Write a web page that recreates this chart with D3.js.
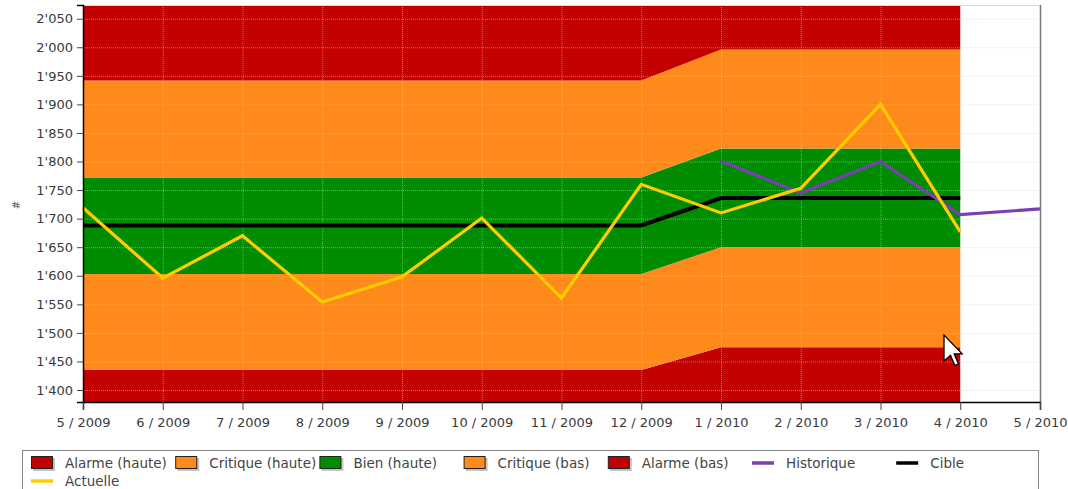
<!DOCTYPE html>
<html>
<head>
<meta charset="utf-8">
<script src="https://cdn.jsdelivr.net/npm/d3@7"></script>
<style>
  body { margin: 0; background: #fff; }
  text { font-family: "DejaVu Sans", Verdana, sans-serif; }
</style>
</head>
<body>
<div id="chart"></div>
<script>
// Month categories (x axis)
var months = ["5 / 2009", "6 / 2009", "7 / 2009", "8 / 2009", "9 / 2009", "10 / 2009",
  "11 / 2009", "12 / 2009", "1 / 2010", "2 / 2010", "3 / 2010", "4 / 2010", "5 / 2010"];

// Zone limits, one value per month from 5/2009 to 4/2010
var limiteAlarmeHaute = [1942, 1942, 1942, 1942, 1942, 1942, 1942, 1942, 1996, 1996, 1996, 1996];
var limiteCritiqueHaute = [1772, 1772, 1772, 1772, 1772, 1772, 1772, 1772, 1823, 1823, 1823, 1823];
var limiteCritiqueBas = [1603, 1603, 1603, 1603, 1603, 1603, 1603, 1603, 1650, 1650, 1650, 1650];
var limiteAlarmeBas = [1435, 1435, 1435, 1435, 1435, 1435, 1435, 1435, 1475, 1475, 1475, 1475];

// Lines
var cible = [1688, 1688, 1688, 1688, 1688, 1688, 1688, 1688, 1736, 1736, 1736, 1736];
var actuelle = [1719, 1596, 1670, 1554, 1598, 1701, 1561, 1760, 1710, 1753, 1900, 1677];
var historique = [null, null, null, null, null, null, null, null, 1801, 1745, 1800, 1707, 1717];

// Y tick values
var yTicks = [1400, 1450, 1500, 1550, 1600, 1650, 1700, 1750, 1800, 1850, 1900, 1950, 2000, 2050];

var svgWidth = 1068;
var svgHeight = 489;

var margin = { top: 5, right: 28, bottom: 87, left: 83 };
var chartWidth = svgWidth - margin.left - margin.right;
var chartHeight = svgHeight - margin.top - margin.bottom;

var colors = {
  alarme: "#c20000",
  critique: "#fd8a1b",
  bien: "#008c00",
  actuelle: "#ffcc00",
  historique: "#7a3fb2",
  cible: "#000000"
};

var svg = d3.select("#chart")
  .append("svg")
  .attr("width", svgWidth)
  .attr("height", svgHeight);

var chartGroup = svg.append("g")
  .attr("transform", `translate(${margin.left}, ${margin.top})`);

var xScale = d3.scalePoint()
  .domain(months)
  .range([0, chartWidth]);

var yScale = d3.scaleLinear()
  .domain([1379, 2074])
  .range([chartHeight, 0]);

var yMin = yScale.domain()[0];
var yMax = yScale.domain()[1];

// Zones as areas between limits
var zones = [
  { name: "Alarme (bas)", color: colors.alarme, low: months.slice(0, 12).map(() => yMin), high: limiteAlarmeBas },
  { name: "Critique (bas)", color: colors.critique, low: limiteAlarmeBas, high: limiteCritiqueBas },
  { name: "Bien (haute)", color: colors.bien, low: limiteCritiqueBas, high: limiteCritiqueHaute },
  { name: "Critique (haute)", color: colors.critique, low: limiteCritiqueHaute, high: limiteAlarmeHaute },
  { name: "Alarme (haute)", color: colors.alarme, low: limiteAlarmeHaute, high: months.slice(0, 12).map(() => yMax) }
];

var area = d3.area()
  .x(d => xScale(d.month))
  .y0(d => yScale(d.low))
  .y1(d => yScale(d.high));

zones.forEach(function(z) {
  var rows = z.low.map((v, i) => ({ month: months[i], low: v, high: z.high[i] }));
  chartGroup.append("path")
    .datum(rows)
    .attr("fill", z.color)
    .attr("d", area);
});

// Grid lines (dotted, drawn over the zones)
chartGroup.append("g")
  .selectAll("line.h")
  .data(yTicks)
  .enter()
  .append("line")
  .attr("x1", 0)
  .attr("x2", chartWidth)
  .attr("y1", d => yScale(d) + 0.5)
  .attr("y2", d => yScale(d) + 0.5)
  .attr("stroke", "rgba(205,205,205,0.55)")
  .attr("stroke-dasharray", "1,1");

chartGroup.append("g")
  .selectAll("line.v")
  .data(months.slice(1))
  .enter()
  .append("line")
  .attr("x1", d => xScale(d) + 0.5)
  .attr("x2", d => xScale(d) + 0.5)
  .attr("y1", 0)
  .attr("y2", chartHeight)
  .attr("stroke", "rgba(205,205,205,0.55)")
  .attr("stroke-dasharray", "1,1");

// Lines
var line = d3.line()
  .defined(d => d.value != null)
  .x(d => xScale(d.month))
  .y(d => yScale(d.value));

function drawLine(values, color, width) {
  chartGroup.append("path")
    .datum(values.map((v, i) => ({ month: months[i], value: v })))
    .attr("fill", "none")
    .attr("stroke", color)
    .attr("stroke-width", width)
    .attr("stroke-linejoin", "miter")
    .attr("d", line);
}

drawLine(cible, colors.cible, 4);
drawLine(historique, colors.historique, 3.2);
drawLine(actuelle, colors.actuelle, 3.2);

// Frame
chartGroup.append("rect")
  .attr("x", 0.5)
  .attr("y", 0.5)
  .attr("width", chartWidth)
  .attr("height", chartHeight)
  .attr("fill", "none")
  .attr("stroke", "#d8d8d8");

chartGroup.append("line")
  .attr("x1", chartWidth + 0.5)
  .attr("x2", chartWidth + 0.5)
  .attr("y1", 0)
  .attr("y2", chartHeight)
  .attr("stroke", "#777")
  .attr("stroke-width", 1.5);

// Axes
var leftAxis = d3.axisLeft(yScale)
  .tickValues(yTicks)
  .tickSize(6)
  .tickPadding(4)
  .tickFormat(d => d3.format(",")(d).replace(",", "'"));

var bottomAxis = d3.axisBottom(xScale)
  .tickSize(8)
  .tickPadding(8);

var yAxisG = chartGroup.append("g").call(leftAxis);
var xAxisG = chartGroup.append("g")
  .attr("transform", `translate(0, ${chartHeight})`)
  .call(bottomAxis);

[yAxisG, xAxisG].forEach(function(g) {
  g.selectAll("text")
    .style("font-family", "'DejaVu Sans', Verdana, sans-serif")
    .style("font-size", "13px")
    .attr("fill", "#3a3a3a");
  g.selectAll(".tick line").attr("stroke", "#444");
  g.select(".domain").attr("stroke", "#000").attr("stroke-width", 1.5);
});

// Y axis title
svg.append("text")
  .attr("transform", "translate(20, 205) rotate(-90)")
  .style("text-anchor", "middle")
  .style("font-size", "10px")
  .attr("fill", "#555")
  .text("#");

// Mouse cursor seen in the screenshot
svg.append("path")
  .attr("transform", "translate(944, 335) scale(1.45)")
  .attr("d", "M0,0 L0,18 L4.5,14 L7.5,21 L10,20 L7,13 L12.5,13 Z")
  .attr("fill", "#fff")
  .attr("stroke", "#000")
  .attr("stroke-width", 0.9);

// Legend
var legendItems = [
  { name: "Alarme (haute)", type: "rect", color: colors.alarme },
  { name: "Critique (haute)", type: "rect", color: colors.critique },
  { name: "Bien (haute)", type: "rect", color: colors.bien },
  { name: "Critique (bas)", type: "rect", color: colors.critique },
  { name: "Alarme (bas)", type: "rect", color: colors.alarme },
  { name: "Historique", type: "line", color: colors.historique },
  { name: "Cible", type: "line", color: colors.cible },
  { name: "Actuelle", type: "line", color: colors.actuelle }
];

svg.append("rect")
  .attr("x", 22.5)
  .attr("y", 450.5)
  .attr("width", 1016)
  .attr("height", 50)
  .attr("fill", "#fff")
  .attr("stroke", "#888");

var legend = svg.append("g");

legendItems.forEach(function(item, i) {
  var col = i % 7;
  var row = Math.floor(i / 7);
  var g = legend.append("g")
    .attr("transform", `translate(${31 + col * 144.2}, ${463 + row * 18})`);

  if (item.type === "rect") {
    g.append("rect")
      .attr("x", 2)
      .attr("y", -5)
      .attr("width", 22)
      .attr("height", 13)
      .attr("fill", "#999")
      .attr("opacity", 0.6);
    g.append("rect")
      .attr("x", 0.5)
      .attr("y", -6.5)
      .attr("width", 21)
      .attr("height", 12)
      .attr("fill", item.color)
      .attr("stroke", "#222");
  } else {
    g.append("line")
      .attr("x1", 0)
      .attr("x2", 22)
      .attr("y1", 0)
      .attr("y2", 0)
      .attr("stroke", item.color)
      .attr("stroke-width", 3.5);
  }

  g.append("text")
    .attr("x", 34)
    .attr("y", 5)
    .style("font-size", "13.5px")
    .attr("fill", "#444")
    .text(item.name);
});
</script>
</body>
</html>
